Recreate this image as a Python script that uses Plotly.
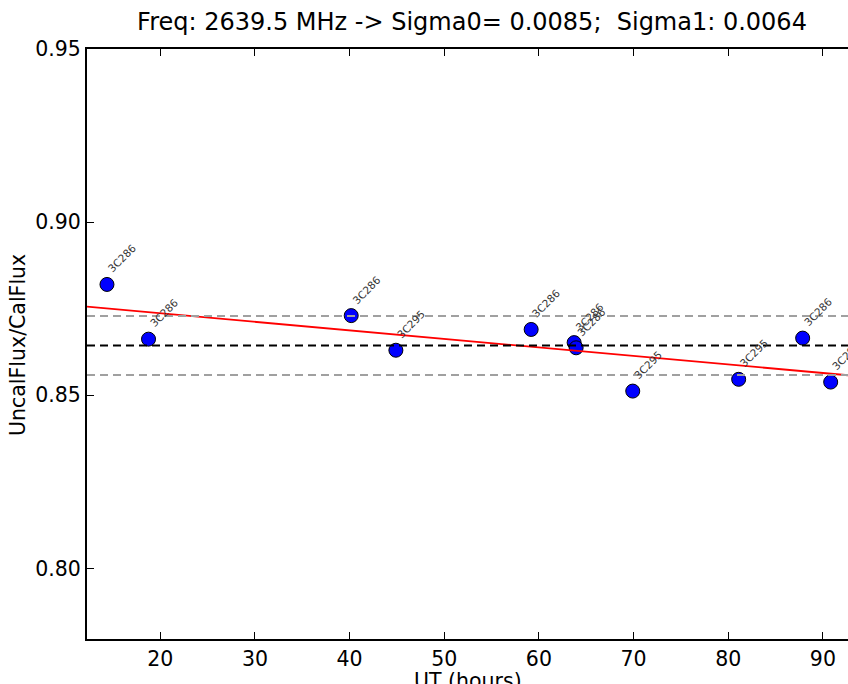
import numpy as np
import plotly.graph_objects as go

# Data
ut_hours = [14.37, 18.76, 40.17, 44.89, 59.18, 63.72, 63.93, 69.91, 81.10, 87.86, 90.82]
flux_ratio = [0.8820, 0.8662, 0.8730, 0.8630, 0.8690, 0.8652, 0.8637, 0.8512, 0.8546, 0.8665, 0.8538]
source_names = ["3C286", "3C286", "3C286", "3C295", "3C286", "3C286", "3C286",
                "3C295", "3C295", "3C286", "3C295"]
y_ticks = [0.80, 0.85, 0.90, 0.95]
x_ticks = [20, 30, 40, 50, 60, 70, 80, 90]
title_text = "Freq: 2639.5 MHz -> Sigma0= 0.0085;  Sigma1: 0.0064"
x_label = "UT (hours)"
y_label = "UncalFlux/CalFlux"

X_RANGE = [12.26, 92.65]
Y_RANGE = [0.7796, 0.95]

x = np.array(ut_hours)
y = np.array(flux_ratio)
mean = y.mean()
std = y.std()
slope, intercept = np.polyfit(x, y, 1)
fit_x = np.array(X_RANGE)
fit_y = intercept + slope * fit_x

FONT = "DejaVu Sans"
W, H = 848, 684
ML, MR, MT, MB = 87, 0, 49, 45
PW, PH = W - ML - MR, H - MT - MB

fig = go.Figure()
fig.add_trace(go.Scatter(
    x=ut_hours, y=flux_ratio, mode="markers",
    marker=dict(size=14, color="#0000ff", line=dict(color="black", width=1)),
    showlegend=False, hoverinfo="skip",
))
fig.add_trace(go.Scatter(
    x=fit_x, y=fit_y, mode="lines",
    line=dict(color="#ff0000", width=1.8),
    showlegend=False, hoverinfo="skip",
))

shapes = []
for val, col in [(mean - std, "#a0a0a0"), (mean + std, "#a0a0a0"), (mean, "black")]:
    shapes.append(dict(type="line", xref="paper", x0=0, x1=1, yref="y", y0=val, y1=val,
                       line=dict(color=col, width=2, dash="8px,5px"), layer="above"))

annotations = []
for xi, yi, name in zip(ut_hours, flux_ratio, source_names):
    annotations.append(dict(
        x=xi, y=yi, xref="x", yref="y", text=name, showarrow=False,
        textangle=-45, xanchor="left", yanchor="bottom",
        xshift=-4, yshift=7,
        font=dict(family=FONT, size=10.5, color="#333333"),
    ))
# axis titles placed as annotations for exact pixel placement
annotations.append(dict(
    text=x_label, showarrow=False, xref="paper", yref="paper",
    x=(468 - ML) / PW, y=-(681 - (H - MB)) / PH, xanchor="center", yanchor="middle",
    font=dict(family=FONT, size=20.5, color="black"),
))
annotations.append(dict(
    text=y_label, showarrow=False, xref="paper", yref="paper", textangle=-90,
    x=(18 - ML) / PW, y=(H - MB - 345) / PH, xanchor="center", yanchor="middle",
    font=dict(family=FONT, size=20.5, color="black"),
))

fig.update_layout(
    width=W, height=H,
    margin=dict(l=ML, r=MR, t=MT, b=MB),
    paper_bgcolor="white", plot_bgcolor="white",
    font=dict(family=FONT, size=20.5, color="black"),
    title=dict(text=title_text, x=472 / W, xref="container", xanchor="center",
               y=1 - 22 / H, yref="container", yanchor="middle",
               font=dict(family=FONT, size=24, color="black")),
    shapes=shapes,
    annotations=annotations,
)
fig.update_xaxes(
    range=X_RANGE, tickvals=x_ticks, ticktext=[str(t) for t in x_ticks],
    showgrid=False, zeroline=False,
    showline=True, linecolor="black", linewidth=2, mirror="ticks",
    ticks="inside", ticklen=7, tickwidth=1, tickcolor="black",
    tickfont=dict(family=FONT, size=20.5),
)
fig.update_yaxes(
    range=Y_RANGE, tickvals=y_ticks, ticktext=[f"{t:.2f}" for t in y_ticks],
    showgrid=False, zeroline=False,
    showline=True, linecolor="black", linewidth=2, mirror=False,
    ticks="inside", ticklen=7, tickwidth=1, tickcolor="black",
    tickfont=dict(family=FONT, size=20.5),
)

fig.write_html("out.html", config={"displayModeBar": False},
               post_script="document.body.style.margin='0';")
